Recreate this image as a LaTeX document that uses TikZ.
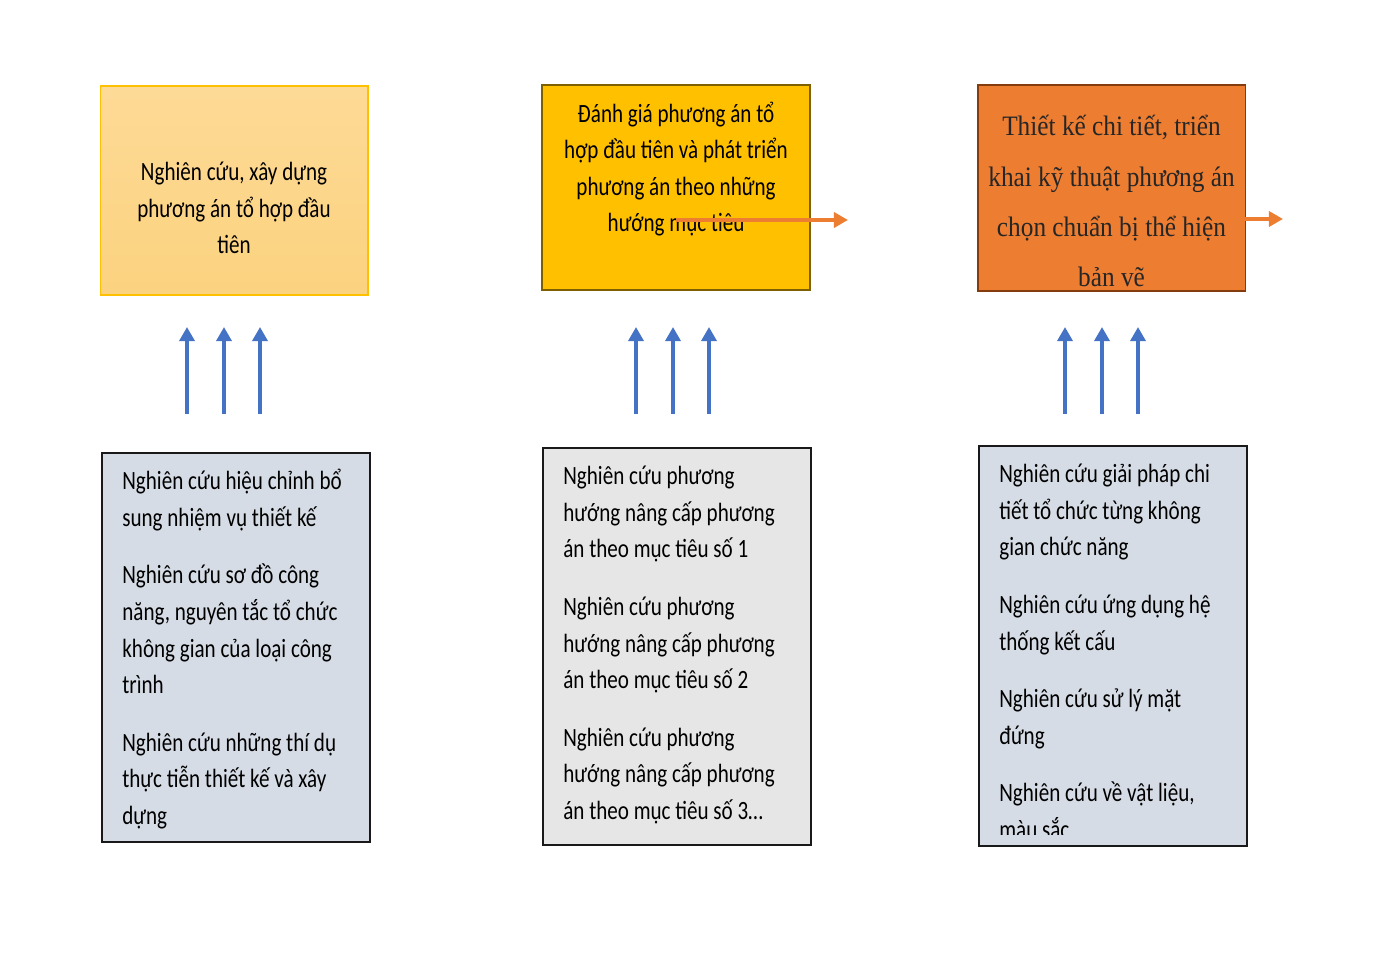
\documentclass[tikz,border=0pt]{standalone}
\usepackage{fontspec}
\usepackage{xcolor}
\usetikzlibrary{arrows.meta}

\newfontfamily\condsans[FakeStretch=0.8]{Carlito}
\newfontfamily\bookserif[FakeStretch=0.9]{Liberation Serif}

\definecolor{paleamber}{HTML}{FDDA96}
\definecolor{paleamberlow}{HTML}{FBD27F}
\definecolor{amber}{HTML}{FFC000}
\definecolor{amberedge}{HTML}{7F6000}
\definecolor{burntorange}{HTML}{ED7D31}
\definecolor{burntedge}{HTML}{843C0C}
\definecolor{steelblue}{HTML}{4472C4}
\definecolor{bluegrey}{HTML}{D6DCE5}
\definecolor{lightgrey}{HTML}{E7E6E6}

\tikzset{
  topbox/.style={rectangle, minimum width=5.36cm, outer sep=0pt, inner sep=0pt},
  studybox/.style={rectangle, draw=black!90, line width=1.1pt, minimum width=5.36cm, outer sep=0pt, inner sep=0pt},
  sanstext/.style={align=center, inner sep=0pt, font=\condsans\fontsize{15}{20.8}\selectfont},
  listtext/.style={align=left, anchor=north west, inner sep=0pt, font=\condsans\fontsize{15}{20.8}\selectfont},
  uparrow/.style={draw=steelblue, line width=2.1pt, -{Triangle[length=8pt,width=8.5pt]}},
  sidearrow/.style={draw=burntorange, line width=2.1pt, -{Triangle[length=8pt,width=8.5pt]}}
}

\begin{document}
\begin{tikzpicture}[x=0.02cm,y=-0.02cm]
  \useasboundingbox (0,0) rectangle (1382,955);

  % upper row
  \node[topbox, minimum height=4.18cm, draw=amber, line width=0.6pt, top color=paleamber, bottom color=paleamberlow] (plan1) at (234,190.5) {};
  \node[sanstext] (plan1txt) at (234,208) {Nghiên cứu, xây dựng\\phương án tổ hợp đầu\\tiên};

  \node[topbox, minimum height=4.1cm, fill=amber, draw=amberedge, line width=1.1pt] (plan2) at (676,187.5) {};
  \node[sanstext] (plan2txt) at (676,169) {Đánh giá phương án tổ\\hợp đầu tiên và phát triển\\phương án theo những\\hướng mục tiêu};

  \node[topbox, minimum height=4.12cm, fill=burntorange, draw=burntedge, line width=1.1pt] (plan3) at (1111.5,188) {};
  \node[align=center, inner sep=0pt, font=\bookserif\fontsize{16}{28.5}\selectfont, text=black!85] (plan3txt) at (1111.5,201)
    {Thiết kế chi tiết, triển\\khai kỹ thuật phương án\\chọn chuẩn bị thể hiện\\bản vẽ};

  % lower row
  \node[studybox, minimum height=7.78cm, fill=bluegrey] (study1) at (236,647.5) {};
  \node[listtext] (study1txt) at (122,469) {Nghiên cứu hiệu chỉnh bổ\\sung nhiệm vụ thiết kế\\[12pt]
    Nghiên cứu sơ đồ công\\năng, nguyên tắc tổ chức\\không gian của loại công\\trình\\[12pt]
    Nghiên cứu những thí dụ\\thực tiễn thiết kế và xây\\dựng};

  \node[studybox, minimum height=7.94cm, fill=lightgrey] (study2) at (677,646.5) {};
  \node[listtext] (study2txt) at (563,466) {Nghiên cứu phương\\hướng nâng cấp phương\\án theo mục tiêu số 1\\[12pt]
    Nghiên cứu phương\\hướng nâng cấp phương\\án theo mục tiêu số 2\\[12pt]
    Nghiên cứu phương\\hướng nâng cấp phương\\án theo mục tiêu số 3…};

  \node[studybox, minimum height=8cm, fill=bluegrey] (study3) at (1113,646) {};
  \begin{scope}
    \clip (979,446) rectangle (1247,834);
    \node[listtext] (study3txt) at (999,464) {Nghiên cứu giải pháp chi\\tiết tổ chức từng không\\gian chức năng\\[12pt]
      Nghiên cứu ứng dụng hệ\\thống kết cấu\\[12pt]
      Nghiên cứu sử lý mặt\\đứng\\[12pt]
      Nghiên cứu về vật liệu,\\màu sắc…};
  \end{scope}

  % blue arrows between the rows
  \foreach \ax [count=\i] in {187,224,260,636,673,709,1065,1102,1138} {
    \coordinate (foot\i) at (\ax,414);
    \coordinate (tip\i) at (\ax,327);
    \draw[uparrow] (foot\i) -- (tip\i);
  }

  % orange arrows
  \coordinate (in2) at (676,220);
  \coordinate (out2) at (848,220);
  \coordinate (out3) at (1283,219);
  \draw[sidearrow] (in2) -- (out2);
  \draw[sidearrow] (plan3.east |- out3) -- (out3);
\end{tikzpicture}
\end{document}
